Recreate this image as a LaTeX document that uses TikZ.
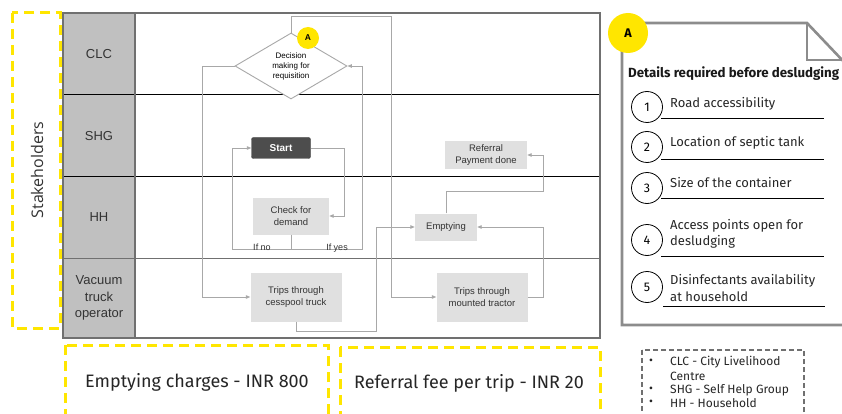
\documentclass[tikz,border=0pt]{standalone}
\usepackage{fontspec}
\setmainfont{Liberation Sans}
\newfontfamily\eyfont{Fira Sans}
\newfontfamily\osfont{Open Sans}
\usetikzlibrary{arrows.meta,shapes.geometric}
\definecolor{eyyellow}{HTML}{FFE600}
\definecolor{boxgray}{HTML}{E0E0E0}
\definecolor{startgray}{HTML}{4D4D4D}
\definecolor{linegray}{HTML}{A8A8A8}
\definecolor{framegray}{HTML}{707070}
\definecolor{labelgray}{HTML}{C0C0C0}
\definecolor{cardgray}{HTML}{8C8C8C}
\definecolor{txt}{HTML}{333333}
\tikzset{
  ydash/.style={draw=eyyellow, line width=3pt, dash pattern=on 10pt off 6pt},
  flowbox/.style={fill=boxgray, inner sep=0pt, align=center, text=txt, font=\fontsize{9.5}{12}\selectfont},
  conn/.style={draw=linegray, line width=0.9pt},
  arr/.style={conn, -{Triangle[length=4.5pt,width=3.5pt]}},
  rowlabel/.style={align=center, text=txt, font=\fontsize{13}{16.3}\selectfont},
  numcirc/.style={circle, draw=black, line width=0.8pt, minimum size=31pt, inner sep=0pt, font=\eyfont\fontsize{12.5}{14}\selectfont},
  itemtext/.style={anchor=west, inner sep=0pt, align=left, text=black!85, font=\eyfont\fontsize{13}{16.5}\selectfont},
  uline/.style={draw=black, line width=0.8pt},
  legtext/.style={anchor=west, inner sep=0pt, text=black!85, font=\eyfont\fontsize{12}{13}\selectfont},
}
\begin{document}
\begin{tikzpicture}[x=1pt,y=-1pt]
\useasboundingbox (0,0) rectangle (842,414);
\clip (0,0) rectangle (842,414);
\fill[white] (0,0) rectangle (842,414);

% stakeholders dashed box
\draw[ydash] (12,13) rectangle (60,328);
\node[rotate=90, font=\osfont\fontsize{16}{18}\selectfont, text=txt] (stk) at (37,170) {Stakeholders};

% swimlane frame
\fill[labelgray] (63,13) rectangle (135,338);
\draw[black, line width=0.8pt] (63,94) -- (600,94);
\draw[black, line width=0.8pt] (63,176) -- (600,176);
\draw[framegray, line width=1pt] (63,258) -- (600,258);
\draw[framegray, line width=1.3pt] (63,13) rectangle (600,338);
\draw[framegray, line width=1.3pt] (135,13) -- (135,338);

\node[rowlabel] (clc) at (99,54) {CLC};
\node[rowlabel] (shg) at (99,136) {SHG};
\node[rowlabel] (hh) at (99,217) {HH};
\node[rowlabel] (vto) at (99,298) {Vacuum\\truck\\operator};

% flow nodes
\node[diamond, draw=linegray, line width=0.9pt, fill=white, minimum width=112pt, minimum height=66pt, inner sep=0pt, aspect=1.7,
      align=center, text=black, font=\fontsize{8}{10}\selectfont] (diam) at (291,66) {Decision\\making for\\requisition};
\node[circle, fill=eyyellow, minimum size=22pt, inner sep=0pt, font=\bfseries\fontsize{8.5}{10}\selectfont] (asmall) at (308,38) {A};

\node[fill=startgray, draw=startgray!80!black, rounded corners=2pt, minimum width=59pt, minimum height=21pt, inner sep=0pt,
      text=white, font=\bfseries\fontsize{10}{12}\selectfont] (start) at (281,148) {Start};
\node[flowbox, minimum width=76pt, minimum height=37pt] (check) at (291,216) {Check for\\demand};
\node[flowbox, minimum width=91pt, minimum height=49pt] (cess) at (296,297) {Trips through\\cesspool truck};
\node[flowbox, minimum width=91pt, minimum height=49pt] (tractor) at (482,297) {Trips through\\mounted tractor};
\node[flowbox, minimum width=62pt, minimum height=27pt] (empt) at (446,227) {Emptying};
\node[flowbox, minimum width=82pt, minimum height=27pt] (ref) at (486,155) {Referral\\Payment done};

% connectors
\draw[arr] (diam.north) -- ++(0,-16) -| ([xshift=-45pt]tractor.west) -- (tractor.west);
\draw[arr] (diam.west) -| ([xshift=-48pt]cess.west) -- (cess.west);
\draw[arr] (start.east) -| ([xshift=15pt]check.east) -- (check.east);
\draw[conn] (check.south) -- ++(0,15) coordinate (split);
\draw[arr] (split) -| ([xshift=-19pt]start.west) -- (start.west);
\draw[arr] (split) -| ([xshift=15pt]diam.east) -- (diam.east);
\node[anchor=base, inner sep=0pt, font=\fontsize{9}{11}\selectfont, text=txt] (ifno) at (262,250) {If no};
\node[anchor=base, inner sep=0pt, font=\fontsize{9}{11}\selectfont, text=txt] (ifyes) at (337,250) {If yes};
\draw[arr] (cess.south) -- ++(0,10) -| ([xshift=-38pt]empt.west) -- (empt.west);
\draw[arr] (tractor.east) -| ([xshift=66pt]empt.east) -- (empt.east);
\draw[arr] (empt.north) -- ++(0,-22) -| ([xshift=16pt]ref.east) -- (ref.east);

% bottom dashed boxes
\draw[ydash] (65,345) rectangle (328,424);
\draw[ydash] (340,347) rectangle (600,424);
\node[font=\eyfont\fontsize{18}{21}\selectfont, text=black!85] (charges) at (197,382) {Emptying charges - INR 800};
\node[font=\eyfont\fontsize{18}{21}\selectfont, text=black!85] (fee) at (469,383) {Referral fee per trip - INR 20};

% card A
\draw[cardgray, line width=2.6pt, line join=miter] (850,325) -- (622,325) -- (622,23) -- (807,23) -- (845,63);
\draw[cardgray, line width=2.6pt] (807,23) -- (807,60) -- (850,60);
\node[circle, fill=eyyellow, minimum size=40pt, inner sep=0pt, font=\eyfont\bfseries\fontsize{12.5}{14}\selectfont] (abig) at (628,33) {A};
\node[anchor=base west, inner sep=0pt, font=\eyfont\bfseries\fontsize{13.3}{16}\selectfont, text=black!90] (details) at (628,78) {Details required before desludging};

\node[numcirc] (n1) at (647,107) {1};
\node[itemtext] (t1) at (670,104) {Road accessibility};
\draw[uline] (661,118) -- (824,118);
\node[numcirc] (n2) at (647,147) {2};
\node[itemtext] (t2) at (670,143) {Location of septic tank};
\draw[uline] (661,159) -- (824,159);
\node[numcirc] (n3) at (647,188) {3};
\node[itemtext] (t3) at (670,183) {Size of the container};
\draw[uline] (661,198) -- (824,198);
\node[numcirc] (n4) at (647,240) {4};
\node[itemtext] (t4) at (670,234) {Access points open for\\desludging};
\draw[uline] (661,256) -- (824,256);
\node[numcirc] (n5) at (647,287) {5};
\node[itemtext] (t5) at (670,288) {Disinfectants availability\\at household};
\draw[uline] (663,306) -- (825,306);

% legend
\draw[framegray, line width=1.8pt, dash pattern=on 5pt off 3pt] (642,350) rectangle (804,424);
\node[legtext] (b1) at (649,362) {•};
\node[legtext] (l1) at (670,362) {CLC - City Livelihood};
\node[legtext] (l1b) at (670,376) {Centre};
\node[legtext] (b2) at (649,390) {•};
\node[legtext] (l2) at (670,390) {SHG - Self Help Group};
\node[legtext] (b3) at (649,403) {•};
\node[legtext] (l3) at (670,403) {HH - Household};
\end{tikzpicture}
\end{document}
